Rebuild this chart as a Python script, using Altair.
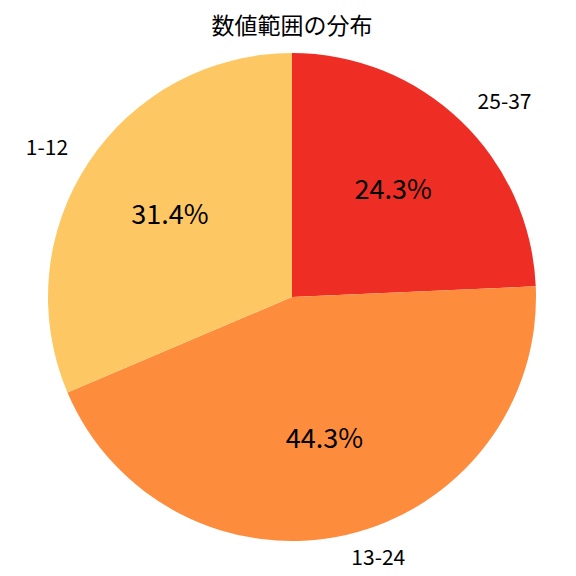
import altair as alt
import pandas as pd

labels = ["25-37", "13-24", "1-12"]
values = [24.3, 44.3, 31.4]
pct_text = ["24.3%", "44.3%", "31.4%"]
colors = ["#EE2E24", "#FD8C3C", "#FDC864"]
title_text = "数値範囲の分布"

df = pd.DataFrame({
    "label": labels,
    "value": values,
    "pct": pct_text,
    "idx": list(range(len(labels))),
})

FONT = "Noto Sans CJK JP"
CX, CY = 284, 289
R = 244

base = alt.Chart(df).encode(
    theta=alt.Theta("value:Q", stack=True),
    order=alt.Order("idx:Q"),
)

pie = base.mark_arc(outerRadius=R).encode(
    x=alt.value(CX), y=alt.value(CY),
    color=alt.Color("label:N", scale=alt.Scale(domain=labels, range=colors), legend=None),
)

pct = base.mark_text(radius=R * 0.6, font=FONT, fontSize=27, color="black",
                     align="center", baseline="middle").encode(
    x=alt.value(CX), y=alt.value(CY), text="pct:N")

lab_right = base.transform_calculate(
    t="datum.label == '1-12' ? '' : datum.label"
).mark_text(radius=R * 1.1, font=FONT, fontSize=21, color="black",
            align="left", baseline="middle").encode(
    x=alt.value(CX), y=alt.value(CY), text="t:N")

lab_left = base.transform_calculate(
    t="datum.label == '1-12' ? datum.label : ''"
).mark_text(radius=R * 1.1, font=FONT, fontSize=21, color="black",
            align="right", baseline="middle").encode(
    x=alt.value(CX), y=alt.value(CY), text="t:N")

title = alt.Chart(pd.DataFrame({"t": [title_text]})).mark_text(
    font=FONT, fontSize=23, color="black", align="center", baseline="middle"
).encode(x=alt.value(CX), y=alt.value(19), text="t:N")

chart = alt.layer(pie, pct, lab_right, lab_left, title).properties(
    width=560, height=560,
    autosize=alt.AutoSizeParams(type="none"),
    padding=0,
).configure_view(stroke=None)

chart.save("out.html", embed_options={"renderer": "svg", "actions": False})
